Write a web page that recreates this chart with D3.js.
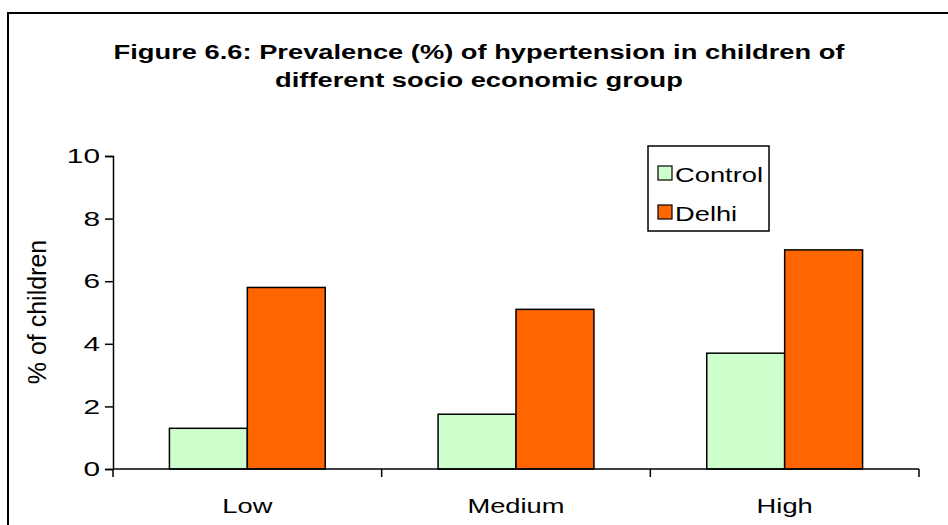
<!DOCTYPE html>
<html>
<head>
<meta charset="utf-8">
<script src="https://cdn.jsdelivr.net/npm/d3@7"></script>
<style>
  body { margin: 0; background: #fff; }
  text { font-family: "Liberation Sans", Arial, sans-serif; fill: #000; }
</style>
</head>
<body>
<div id="chart"></div>
<script>
// data
const groups = ["Low", "Medium", "High"];
const seriesNames = ["Control", "Delhi"];
const controlValues = [1.3, 1.75, 3.7];
const delhiValues = [5.8, 5.1, 7.0];
const yTicks = [0, 2, 4, 6, 8, 10];
const titleLines = ["Figure 6.6: Prevalence (%) of hypertension in children of", "different socio economic group"];

const seriesColors = { Control: "#CCFFCC", Delhi: "#FF6600" };

const width = 948, height = 525;
const plot = { left: 113, right: 919, top: 156, bottom: 469 };
// the original picture is stretched sideways, so horizontal text is widened
const stretch = 1.3, tickStretch = 1.42;

const rows = groups.map((g, i) => ({ group: g, Control: controlValues[i], Delhi: delhiValues[i] }));

const svg = d3.select("#chart")
    .append("svg")
    .attr("width", width)
    .attr("height", height);

// outer chart border (runs off the right/bottom edge like the original)
svg.append("rect")
    .attr("x", 8).attr("y", 13)
    .attr("width", 960).attr("height", 540)
    .attr("fill", "none")
    .attr("stroke", "#000")
    .attr("stroke-width", 2);

// title
svg.append("g")
    .selectAll("text")
    .data(titleLines)
    .join("text")
    .attr("transform", (d, i) => `translate(479,${59 + i * 28}) scale(${stretch},1)`)
    .attr("text-anchor", "middle")
    .attr("font-size", 21)
    .attr("font-weight", "bold")
    .text(d => d);

const x0 = d3.scaleBand()
    .domain(groups)
    .range([plot.left, plot.right]);

const x1 = d3.scaleBand()
    .domain(seriesNames)
    .range([x0.bandwidth() * 0.21, x0.bandwidth() * 0.79]);

const y = d3.scaleLinear()
    .domain([0, 10])
    .range([plot.bottom, plot.top]);

// bars
svg.append("g")
    .selectAll("g")
    .data(rows)
    .join("g")
    .attr("transform", d => `translate(${x0(d.group)},0)`)
    .selectAll("rect")
    .data(d => seriesNames.map(s => ({ key: s, value: d[s] })))
    .join("rect")
    .attr("x", d => x1(d.key))
    .attr("y", d => y(d.value))
    .attr("width", x1.bandwidth())
    .attr("height", d => y(0) - y(d.value))
    .attr("fill", d => seriesColors[d.key])
    .attr("stroke", "#000")
    .attr("stroke-width", 1.5);

// y axis
const yAxis = svg.append("g")
    .attr("transform", `translate(${plot.left},0)`)
    .call(d3.axisLeft(y).tickValues(yTicks).tickSize(8).tickPadding(5).tickFormat(d3.format("d")));
yAxis.select(".domain").attr("stroke", "#000").attr("stroke-width", 1.5);
yAxis.selectAll(".tick line").attr("stroke", "#000").attr("stroke-width", 1.5);
yAxis.selectAll(".tick text")
    .attr("x", 0)
    .attr("transform", `translate(-13,0) scale(${tickStretch},1)`)
    .attr("font-size", 21)
    .attr("font-family", "Liberation Sans, Arial, sans-serif")
    .attr("fill", "#000");

// x axis: ticks sit on band boundaries, labels centred in the bands
const xAxisG = svg.append("g")
    .attr("transform", `translate(0,${plot.bottom})`);
xAxisG.append("line")
    .attr("x1", plot.left).attr("x2", plot.right)
    .attr("stroke", "#000").attr("stroke-width", 1.5);
const boundaries = groups.map(g => x0(g)).concat([plot.right]);
xAxisG.selectAll("line.tick")
    .data(boundaries)
    .join("line")
    .attr("class", "tick")
    .attr("x1", d => d).attr("x2", d => d)
    .attr("y1", 0).attr("y2", 8)
    .attr("stroke", "#000").attr("stroke-width", 1.5);
xAxisG.selectAll("text")
    .data(groups)
    .join("text")
    .attr("transform", d => `translate(${x0(d) + x0.bandwidth() / 2},44) scale(${stretch},1)`)
    .attr("text-anchor", "middle")
    .attr("font-size", 21)
    .text(d => d);

// y axis title
svg.append("text")
    .attr("transform", "translate(46,312) rotate(-90)")
    .attr("text-anchor", "middle")
    .attr("font-size", 25)
    .text("% of children");

// legend
const legend = svg.append("g").attr("transform", "translate(648,146)");
legend.append("rect")
    .attr("width", 121).attr("height", 85)
    .attr("fill", "#fff")
    .attr("stroke", "#000").attr("stroke-width", 1.5);
const item = legend.selectAll("g.item")
    .data(seriesNames)
    .join("g")
    .attr("class", "item")
    .attr("transform", (d, i) => `translate(10,${20 + i * 39})`);
item.append("rect")
    .attr("width", 14).attr("height", 14)
    .attr("fill", d => seriesColors[d])
    .attr("stroke", "#000").attr("stroke-width", 1.2);
item.append("text")
    .attr("transform", `translate(17,16) scale(${stretch},1)`)
    .attr("font-size", 21)
    .text(d => d);
</script>
</body>
</html>
